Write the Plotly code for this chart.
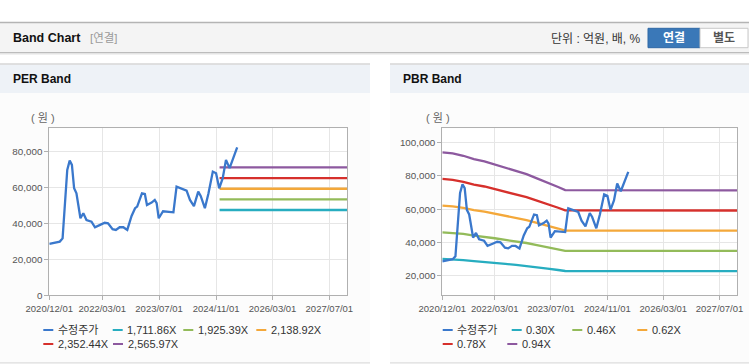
import plotly.graph_objects as go

W, H = 749, 364

# ---------------- data ----------------
price_label = "수정주가"
price_dates = [
    "2020-12-01", "2021-01-19", "2021-03-01", "2021-03-25", "2021-04-04", "2021-04-22",
    "2021-05-04", "2021-05-25", "2021-06-13", "2021-07-02", "2021-07-22", "2021-08-07",
    "2021-08-25", "2021-09-19", "2021-10-16", "2021-11-28", "2021-12-28", "2022-02-10",
    "2022-03-22", "2022-04-19", "2022-05-28", "2022-06-25", "2022-07-28", "2022-08-28",
    "2022-10-01", "2022-11-07", "2022-12-07", "2022-12-25", "2023-01-19", "2023-02-04",
    "2023-03-01", "2023-03-19", "2023-04-28", "2023-05-25", "2023-06-10", "2023-06-28",
    "2023-08-04", "2023-10-01", "2023-11-01", "2023-11-28", "2023-12-28", "2024-02-22",
    "2024-03-22", "2024-04-25", "2024-06-01", "2024-06-22", "2024-07-28", "2024-08-28",
    "2024-10-04", "2024-11-01", "2024-11-28", "2024-12-28", "2025-01-25", "2025-02-25",
    "2025-05-01",
]
price_values = [
    28600, 29300, 29900, 31700, 41900, 58700,
    69800, 75000, 72600, 59600, 56800, 50300,
    42900, 45700, 41900, 41000, 37900, 39200,
    40400, 40100, 36800, 36400, 37900, 37900,
    36400, 44200, 48500, 49400, 54000, 56800,
    56400, 50300, 51600, 53100, 51300, 42900,
    46800, 46600, 46200, 60500, 59600, 58300,
    53100, 49700, 57700, 55300, 48500, 56800,
    68900, 68000, 59600, 65200, 75400, 70800,
    82400,
]

per_band_labels = ["1,711.86X", "1,925.39X", "2,138.92X", "2,352.44X", "2,565.97X"]
per_band_levels = [47500, 53400, 59350, 65250, 71200]
per_band_span = ["2024-12-01", "2027-12-02"]

pbr_band_labels = ["0.30X", "0.46X", "0.62X", "0.78X", "0.94X"]
pbr_band_dates = [
    "2020-12-01", "2021-03-01", "2021-06-01", "2021-09-01", "2021-12-01", "2022-03-01",
    "2022-06-01", "2022-09-01", "2022-12-01", "2023-03-01", "2023-06-01", "2023-09-01",
    "2023-11-01", "2027-12-02",
]
pbr_030 = [30060, 29850, 29400, 28740, 28320, 27720, 27060, 26490, 25860, 25050, 24300, 23400, 22800, 22770]
pbr_046 = [46090, 45770, 45080, 44070, 43420, 42500, 41490, 40620, 39650, 38410, 37260, 35880, 34960, 34910]
pbr_062 = [62120, 61690, 60760, 59400, 58530, 57290, 55920, 54750, 53440, 51770, 50220, 48360, 47120, 47060]
pbr_078 = [78160, 77610, 76440, 74720, 73630, 72070, 70360, 68870, 67240, 65130, 63180, 60840, 59280, 59200]
pbr_094 = [94190, 93530, 92120, 90050, 88740, 86860, 84790, 83000, 81030, 78490, 76140, 73320, 71440, 71350]
pbr_band_values = [pbr_030, pbr_046, pbr_062, pbr_078, pbr_094]

x_tick_dates = ["2020-12-01", "2022-03-01", "2023-07-01", "2024-11-01", "2026-03-01", "2027-07-01"]
x_tick_text = ["2020/12/01", "2022/03/01", "2023/07/01", "2024/11/01", "2026/03/01", "2027/07/01"]
x_range = ["2020-12-01", "2027-12-02"]
per_y_ticks = [0, 20000, 40000, 60000, 80000]
per_y_range = [0, 93000]
pbr_y_ticks = [20000, 40000, 60000, 80000, 100000]
pbr_y_range = [8190, 108640]

# ---------------- style ----------------
FONT = "Liberation Sans, Arial, Noto Sans CJK KR, sans-serif"
price_color = "#3a78cc"
band_colors = ["#27adc0", "#93bb5a", "#f4a83a", "#d6302c", "#8d599f"]


def px(x):
    return x / W


def py(y):
    return 1 - y / H


fig = go.Figure()

# PER bands
for lab, lev, col in zip(per_band_labels, per_band_levels, band_colors):
    fig.add_trace(go.Scatter(x=per_band_span, y=[lev, lev], mode="lines", name=lab,
                             line=dict(color=col, width=2.3), xaxis="x", yaxis="y",
                             hoverinfo="skip"))
fig.add_trace(go.Scatter(x=price_dates, y=price_values, mode="lines", name=price_label,
                         line=dict(color=price_color, width=2.3), xaxis="x", yaxis="y"))

# PBR bands
for lab, vals, col in zip(pbr_band_labels, pbr_band_values, band_colors):
    fig.add_trace(go.Scatter(x=pbr_band_dates, y=vals, mode="lines", name=lab,
                             line=dict(color=col, width=2.3), xaxis="x2", yaxis="y2",
                             hoverinfo="skip"))
fig.add_trace(go.Scatter(x=price_dates, y=price_values, mode="lines", name=price_label,
                         line=dict(color=price_color, width=2.3), xaxis="x2", yaxis="y2"))

PLOT_TOP, PLOT_BOT = 128.3, 295.3
PER_L, PER_R = 49.3, 347.3
PBR_L, PBR_R = 442.3, 737.3

axis_common = dict(showgrid=True, gridcolor="#e6e6e6", gridwidth=1, showline=True,
                   linecolor="#b0b0b0", linewidth=1, mirror=True, ticks="outside",
                   ticklen=4, tickcolor="#b0b0b0", zeroline=False, fixedrange=True,
                   automargin=False)

xaxis_common = dict(axis_common, type="date", range=x_range, tickvals=x_tick_dates,
                    ticktext=x_tick_text, tickfont=dict(size=9.5, color="#555"))

fig.update_layout(
    width=W, height=H, margin=dict(l=0, r=0, t=0, b=0, pad=0, autoexpand=False),
    paper_bgcolor="white", plot_bgcolor="white", showlegend=False,
    font=dict(family=FONT, color="#333"),
    xaxis=dict(xaxis_common, domain=[px(PER_L), px(PER_R)], anchor="y"),
    yaxis=dict(axis_common, domain=[py(PLOT_BOT), py(PLOT_TOP)], anchor="x",
               range=per_y_range, tickvals=per_y_ticks, tickformat=",",
               tickfont=dict(size=9.8, color="#555")),
    xaxis2=dict(xaxis_common, domain=[px(PBR_L), px(PBR_R)], anchor="y2"),
    yaxis2=dict(axis_common, domain=[py(PLOT_BOT), py(PLOT_TOP)], anchor="x2",
                range=pbr_y_range, tickvals=pbr_y_ticks, tickformat=",",
                tickfont=dict(size=9.8, color="#555")),
)

shapes = []


def rect(x0, y0, x1, y1, fill, line=None, lw=0):
    shapes.append(dict(type="rect", xref="paper", yref="paper", layer="below",
                       x0=px(x0), x1=px(x1), y0=py(y1), y1=py(y0), fillcolor=fill,
                       line=dict(color=line or fill, width=lw)))


def hline(x0, x1, y, color, lw=1, layer="below"):
    shapes.append(dict(type="line", xref="paper", yref="paper", layer=layer,
                       x0=px(x0), x1=px(x1), y0=py(y), y1=py(y),
                       line=dict(color=color, width=lw)))


# top header bar
rect(0, 23, W, 52.5, "#f4f4f4")
hline(0, W, 22.5, "#b4b4b4", 1.5)
hline(0, W, 52.5, "#bcbcbc", 1.2)
hline(0, W, 53.8, "#e4e4e4", 1.5)

# buttons
rect(648, 28.3, 700, 47.7, "#3a78b8", "#2f68a5", 1)
rect(700, 28.3, 748, 47.7, "#ffffff", "#c8c8c8", 1)

# panels
for x0, x1 in [(0, 370), (390, W)]:
    rect(x0, 93, x1, 362.5, "#fcfcfc")
    rect(x0, 64.5, x1, 93, "#eef2f7")
    hline(x0, x1, 64, "#d6d6d6", 1.5)
    hline(x0, x1, 362.8, "#dcdcdc", 1.2)

# white plot areas
rect(PER_L, PLOT_TOP, PER_R, PLOT_BOT, "white")
rect(PBR_L, PLOT_TOP, PBR_R, PLOT_BOT, "white")

annotations = []


def text(x, y, s, size=12, color="#333", anchor="left", bold=False):
    annotations.append(dict(xref="paper", yref="paper", x=px(x), y=py(y),
                            xanchor=anchor, yanchor="middle", showarrow=False,
                            text=("<b>%s</b>" % s) if bold else s,
                            font=dict(size=size, color=color, family=FONT)))


text(11, 38, "Band Chart", 12.5, "#111", bold=True)
text(88, 38.5, "[연결]", 11.5, "#9a9a9a")
text(643, 39, "단위 : 억원, 배, %", 12, "#333", anchor="right")
text(674, 38, "연결", 12, "white", anchor="center", bold=True)
text(724, 38, "별도", 12, "#555", anchor="center", bold=True)
text(11, 78.5, "PER Band", 12, "#111", bold=True)
text(401, 78.5, "PBR Band", 12, "#111", bold=True)
text(42.5, 118, "( 원 )", 11, "#666", anchor="center")
text(437.5, 118, "( 원 )", 11, "#666", anchor="center")

# manual legends (entries built from the series names/colours)
per_entries = [(price_label, price_color)] + list(zip(per_band_labels, band_colors))
pbr_entries = [(price_label, price_color)] + list(zip(pbr_band_labels, band_colors))
per_pos = [(43.3, 330), (112.7, 330), (183.3, 330), (256.3, 330), (43.3, 344), (113, 344)]
pbr_pos = [(442.7, 330), (511.7, 330), (572.3, 330), (637.3, 330), (442.7, 344), (507.3, 344)]
for entries, pos in [(per_entries, per_pos), (pbr_entries, pbr_pos)]:
    for (lab, col), (lx, ly) in zip(entries, pos):
        hline(lx, lx + 10, ly, col, 2, layer="above")
        text(lx + 12.5, ly, lab, 11, "#333")

fig.update_layout(shapes=shapes, annotations=annotations)
fig.write_html("out.html",
               config={"displayModeBar": False},
               post_script="document.body.style.margin='0';"
                           "document.body.style.overflow='hidden';")
